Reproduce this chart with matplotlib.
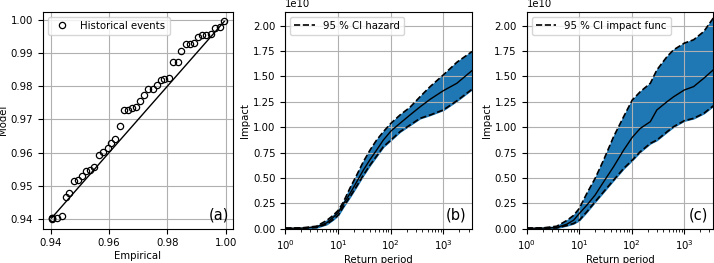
import matplotlib.pyplot as plt
import numpy as np

plt.rcParams["font.size"] = 7.3

# (a) calibration: empirical vs model quantiles of historical events
emp = [0.9403, 0.9403, 0.9403, 0.9421, 0.9438, 0.9452, 0.9464, 0.9479, 0.9493,
       0.9508, 0.9522, 0.9535, 0.9550, 0.9565, 0.9580, 0.9595, 0.9608, 0.9621,
       0.9636, 0.9650, 0.9664, 0.9677, 0.9692, 0.9707, 0.9721, 0.9735, 0.9749,
       0.9763, 0.9777, 0.9790, 0.9804, 0.9820, 0.9835, 0.9848, 0.9863, 0.9877,
       0.9892, 0.9905, 0.9919, 0.9934, 0.9949, 0.9964, 0.9979, 0.9993]
model = [0.9401, 0.9402, 0.9403, 0.9403, 0.9409, 0.9466, 0.9478, 0.9514, 0.9518,
         0.9529, 0.9546, 0.9548, 0.9557, 0.9594, 0.9603, 0.9615, 0.9630, 0.9642,
         0.9679, 0.9727, 0.9729, 0.9733, 0.9738, 0.9756, 0.9772, 0.9793, 0.9793,
         0.9803, 0.9820, 0.9823, 0.9825, 0.9874, 0.9874, 0.9907, 0.9928, 0.9928,
         0.9931, 0.9947, 0.9953, 0.9954, 0.9958, 0.9974, 0.9979, 0.9995]

# (b) impact vs return period, CI from hazard uncertainty (values in 1e10)
rp_b = [1, 2, 3.9, 6.1, 8.1, 10.1, 12.6, 16.9, 22.6, 30.3, 40.5, 54, 72.5, 101,
        150, 232, 360, 560, 1000, 1800, 3490]
mean_b = [0.003, 0.004, 0.016, 0.056, 0.11, 0.158, 0.24, 0.346, 0.46, 0.577,
          0.68, 0.774, 0.873, 0.962, 1.038, 1.12, 1.20, 1.275, 1.36, 1.433, 1.558]
low_b = [0.002, 0.003, 0.010, 0.043, 0.089, 0.132, 0.214, 0.313, 0.418, 0.527,
         0.626, 0.715, 0.807, 0.873, 0.955, 1.021, 1.087, 1.12, 1.17, 1.26, 1.374]
up_b = [0.004, 0.006, 0.023, 0.08, 0.13, 0.18, 0.26, 0.40, 0.527, 0.66, 0.774,
        0.873, 0.955, 1.038, 1.12, 1.196, 1.30, 1.40, 1.516, 1.64, 1.746]

# (c) impact vs return period, CI from impact function uncertainty
rp_c = [1, 2, 3.73, 5.8, 7.8, 10, 13.9, 20, 29, 45, 70, 102, 145, 225, 300, 470,
        625, 1000, 1500, 2350, 3550]
mean_c = [0.003, 0.004, 0.010, 0.043, 0.082, 0.148, 0.23, 0.33, 0.46, 0.61,
          0.774, 0.90, 0.988, 1.054, 1.17, 1.252, 1.30, 1.367, 1.40, 1.483, 1.565]
low_c = [0.002, 0.003, 0.007, 0.03, 0.05, 0.082, 0.165, 0.264, 0.362, 0.478,
         0.593, 0.675, 0.758, 0.84, 0.873, 0.955, 1.005, 1.064, 1.087, 1.137, 1.21]
up_c = [0.004, 0.006, 0.023, 0.08, 0.13, 0.198, 0.346, 0.494, 0.675, 0.906,
        1.104, 1.268, 1.35, 1.433, 1.565, 1.697, 1.763, 1.829, 1.862, 1.944, 2.076]

fig = plt.figure(figsize=(7.14, 2.63), dpi=100)
ax_a = fig.add_axes([0.0602, 0.131, 0.266, 0.825])
ax_b = fig.add_axes([0.3996, 0.131, 0.2615, 0.825])
ax_c = fig.add_axes([0.7377, 0.131, 0.2613, 0.825])

# panel a
ax_a.plot(emp, model, "o", mfc="none", mec="black", ms=4.5, mew=0.9,
          label="Historical events")
ax_a.plot([min(emp), max(model)], [min(emp), max(model)], "k-", lw=1)
ax_a.set_xlabel("Empirical", labelpad=2)
ax_a.set_ylabel("Model", labelpad=2)
ax_a.set_xticks([0.94, 0.96, 0.98, 1.00])
ax_a.grid(True)
ax_a.legend(loc="upper left")
ax_a.text(0.98, 0.03, "(a)", transform=ax_a.transAxes, ha="right", va="bottom", fontsize=10.5)

# panels b and c
for ax, rp, m, lo, hi, lab, tag in [
    (ax_b, rp_b, mean_b, low_b, up_b, "95 % CI hazard", "(b)"),
    (ax_c, rp_c, mean_c, low_c, up_c, "95 % CI impact func", "(c)"),
]:
    rp = np.array(rp)
    ax.fill_between(rp, np.array(lo) * 1e10, np.array(hi) * 1e10, color="#1f77b4")
    ax.plot(rp, np.array(lo) * 1e10, "k--", lw=1.2, label=lab)
    ax.plot(rp, np.array(hi) * 1e10, "k--", lw=1.2)
    ax.plot(rp, np.array(m) * 1e10, "k-", lw=1)
    ax.set_xscale("log")
    ax.set_xlim(1, rp[-1])
    ax.set_ylim(0, 2.14e10)
    ax.set_xlabel("Return period", labelpad=2)
    ax.set_ylabel("Impact", labelpad=2)
    ax.grid(True)
    ax.legend(loc="upper left")
    ax.text(0.97, 0.03, tag, transform=ax.transAxes, ha="right", va="bottom", fontsize=10.5)

fig.savefig("out.png", dpi=100)
